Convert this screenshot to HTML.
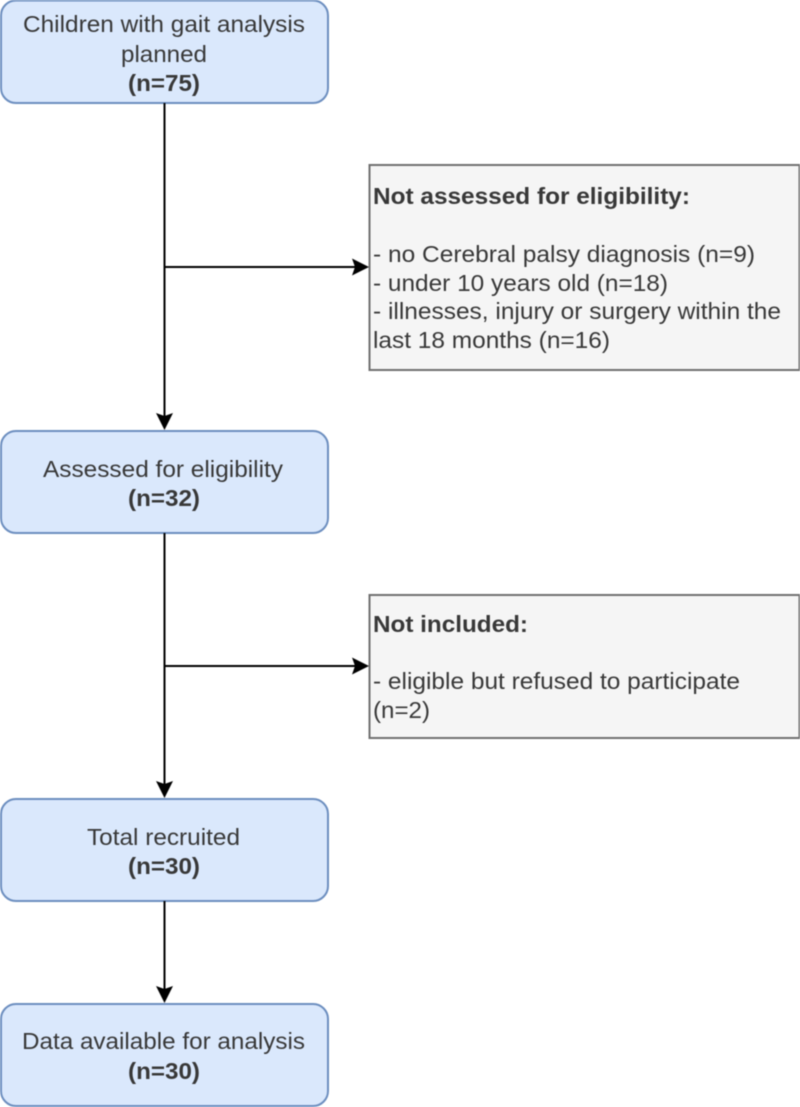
<!DOCTYPE html>
<html>
<head>
<meta charset="utf-8">
<style>
html,body{margin:0;padding:0;background:#fff;}
svg{display:block;filter:blur(0.45px);}
text{font-family:"Liberation Sans",Arial,sans-serif;font-size:23.5px;fill:#383838;}
.b{font-weight:bold;}
</style>
</head>
<body>
<svg width="800" height="1107" viewBox="0 0 800 1107" xmlns="http://www.w3.org/2000/svg">
<g fill="#dae8fc" stroke="#6c8ebf" stroke-width="2">
<rect x="1" y="0.500" width="327" height="102.500" rx="15"/>
<rect x="1" y="431" width="327" height="102" rx="15"/>
<rect x="1" y="799" width="327" height="102" rx="15"/>
<rect x="1" y="1004" width="327" height="102" rx="15"/>
</g>
<g fill="#f5f5f5" stroke="#707070" stroke-width="2">
<rect x="369.500" y="165" width="430" height="205"/>
<rect x="369.500" y="595" width="430" height="143"/>
</g>
<g stroke="#000" stroke-width="2" fill="none">
<path d="M164.500 103V418"/>
<path d="M164.500 267H357"/>
<path d="M164.500 533V786"/>
<path d="M164.500 666H357"/>
<path d="M164.500 901V991"/>
</g>
<g fill="#000">
<path d="M164.500 430l-8.500-17 8.500 3 8.500-3z"/>
<path d="M164.500 798l-8.500-17 8.500 3 8.500-3z"/>
<path d="M164.500 1003l-8.500-17 8.500 3 8.500-3z"/>
<path d="M369 267l-17-8.500 3 8.500-3 8.500z"/>
<path d="M369 666l-17-8.500 3 8.500-3 8.500z"/>
</g>
<text x="23" y="32" textLength="282" lengthAdjust="spacingAndGlyphs">Children with gait analysis</text>
<text x="121" y="62" textLength="86" lengthAdjust="spacingAndGlyphs">planned</text>
<text class="b" x="128" y="91" textLength="72" lengthAdjust="spacingAndGlyphs">(n=75)</text>
<text x="43" y="477" textLength="240" lengthAdjust="spacingAndGlyphs">Assessed for eligibility</text>
<text class="b" x="128" y="506" textLength="72" lengthAdjust="spacingAndGlyphs">(n=32)</text>
<text x="87" y="845" textLength="153" lengthAdjust="spacingAndGlyphs">Total recruited</text>
<text class="b" x="128" y="874" textLength="72" lengthAdjust="spacingAndGlyphs">(n=30)</text>
<text x="22" y="1049" textLength="283" lengthAdjust="spacingAndGlyphs">Data available for analysis</text>
<text class="b" x="128" y="1079" textLength="72" lengthAdjust="spacingAndGlyphs">(n=30)</text>
<text class="b" x="373" y="204" textLength="317" lengthAdjust="spacingAndGlyphs">Not assessed for eligibility:</text>
<text x="373" y="262" textLength="382" lengthAdjust="spacingAndGlyphs">- no Cerebral palsy diagnosis (n=9)</text>
<text x="373" y="291" textLength="295" lengthAdjust="spacingAndGlyphs">- under 10 years old (n=18)</text>
<text x="373" y="319" textLength="408" lengthAdjust="spacingAndGlyphs">- illnesses, injury or surgery within the</text>
<text x="373" y="348" textLength="237" lengthAdjust="spacingAndGlyphs">last 18 months (n=16)</text>
<text class="b" x="373" y="632" textLength="155" lengthAdjust="spacingAndGlyphs">Not included:</text>
<text x="373" y="689" textLength="367" lengthAdjust="spacingAndGlyphs">- eligible but refused to participate</text>
<text x="373" y="718" textLength="57" lengthAdjust="spacingAndGlyphs">(n=2)</text>
</svg>
</body>
</html>
